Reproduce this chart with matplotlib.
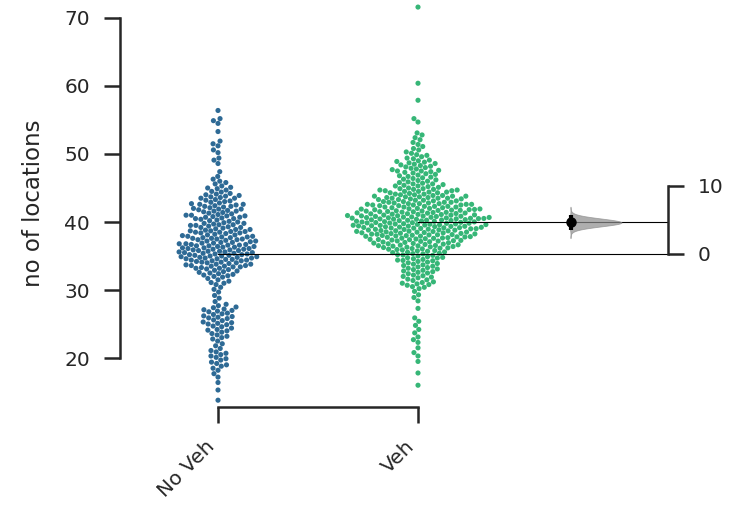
import warnings
warnings.filterwarnings("ignore")

import numpy as np
import pandas as pd
import matplotlib
matplotlib.use("Agg")
import matplotlib.pyplot as plt
import seaborn as sns

# ---- data -------------------------------------------------------------
groups = ["No Veh", "Veh"]

no_veh = [
    56.4, 55.2, 54.9, 54.5, 53.3,
    51.9, 51.5, 51.2, 50.6, 50.2, 49.4, 49.1, 48.6, 47.4,
    46.7, 46.3, 46.0, 45.8, 45.6, 45.3, 45.1, 45.0,
    44.9, 44.7, 44.5, 44.4, 44.2, 44.1, 44.0,
    43.9, 43.8, 43.6, 43.5, 43.5, 43.3, 43.2, 43.1, 43.0, 43.7,
    42.9, 42.8, 42.7, 42.6, 42.5, 42.4, 42.3, 42.3, 42.2, 42.1, 42.0, 42.6,
    41.9, 41.9, 41.8, 41.7, 41.6, 41.5, 41.4, 41.3, 41.2, 41.1, 41.0, 41.0, 41.6,
    40.9, 40.8, 40.7, 40.7, 40.6, 40.5, 40.4, 40.3, 40.2, 40.1, 40.0, 40.5, 40.9,
    39.9, 39.8, 39.8, 39.7, 39.6, 39.5, 39.4, 39.3, 39.2, 39.1, 39.0, 39.5, 39.2, 39.6,
    38.9, 38.9, 38.8, 38.7, 38.6, 38.5, 38.5, 38.4, 38.3, 38.2, 38.1, 38.0,
    38.7, 38.4, 38.1, 38.6,
    37.9, 37.9, 37.8, 37.7, 37.7, 37.6, 37.5, 37.5, 37.4, 37.3, 37.2, 37.1,
    37.0, 37.0, 37.8, 37.4, 37.2, 37.6,
    36.9, 36.9, 36.8, 36.8, 36.7, 36.6, 36.6, 36.5, 36.4, 36.4, 36.3, 36.2,
    36.2, 36.1, 36.0, 36.0, 36.5, 36.7, 36.3, 36.1,
    35.9, 35.9, 35.8, 35.7, 35.7, 35.6, 35.5, 35.5, 35.4, 35.3, 35.3, 35.2,
    35.1, 35.1, 35.0, 35.0, 35.6, 35.4, 35.8, 35.2,
    34.9, 34.9, 34.8, 34.7, 34.6, 34.6, 34.5, 34.4, 34.4, 34.3, 34.2, 34.1,
    34.1, 34.0, 34.0, 34.5, 34.7, 34.3, 34.8,
    33.9, 33.8, 33.7, 33.6, 33.5, 33.5, 33.4, 33.3, 33.2, 33.1, 33.0, 33.6,
    33.2, 33.8, 33.4,
    32.9, 32.8, 32.6, 32.5, 32.4, 32.2, 32.1, 32.0, 32.7, 32.3,
    31.9, 31.7, 31.5, 31.3, 31.1, 31.0,
    30.8, 30.4, 30.1, 29.7, 29.2, 28.8, 28.3,
    27.9, 27.7, 27.5, 27.4, 27.2, 27.1, 27.0,
    26.9, 26.8, 26.6, 26.5, 26.4, 26.2, 26.1, 26.0,
    25.9, 25.8, 25.6, 25.5, 25.3, 25.2, 25.1, 25.0,
    24.9, 24.7, 24.6, 24.4, 24.2, 24.1, 24.0,
    23.8, 23.6, 23.4, 23.2, 23.0,
    22.8, 22.5, 22.1, 21.8, 21.4, 21.1,
    20.9, 20.7, 20.5, 20.3, 20.1,
    19.9, 19.7, 19.4, 19.2, 19.0,
    18.8, 18.5, 18.2, 17.7, 17.2, 16.4, 15.3, 13.8,
]

veh = [
    71.6, 60.4, 57.9, 55.2, 54.7, 53.1,
    52.8, 52.4, 52.1, 51.7, 51.4, 51.1,
    50.8, 50.6, 50.3, 50.1,
    49.9, 49.8, 49.6, 49.4, 49.3, 49.1, 49.0,
    48.9, 48.8, 48.7, 48.6, 48.5, 48.4, 48.3, 48.2, 48.1, 48.0,
    47.9, 47.8, 47.7, 47.6, 47.5, 47.4, 47.3, 47.2, 47.1, 47.0, 47.5,
    46.9, 46.8, 46.7, 46.6, 46.5, 46.4, 46.3, 46.2, 46.1, 46.0,
    45.9, 45.8, 45.7, 45.6, 45.5, 45.4, 45.3, 45.2, 45.1, 45.0, 45.6, 45.3,
    44.9, 44.9, 44.8, 44.7, 44.7, 44.6, 44.5, 44.5, 44.4, 44.3, 44.3, 44.2,
    44.1, 44.1, 44.0, 44.0, 44.6, 44.8, 44.4,
    43.9, 43.9, 43.8, 43.8, 43.7, 43.7, 43.6, 43.5, 43.5, 43.4, 43.4, 43.3,
    43.2, 43.2, 43.1, 43.1, 43.0, 43.0, 43.6, 43.3, 43.8, 43.5,
    42.9, 42.9, 42.8, 42.8, 42.7, 42.7, 42.6, 42.6, 42.5, 42.5, 42.4, 42.4,
    42.3, 42.3, 42.2, 42.2, 42.1, 42.1, 42.0, 42.0, 42.9, 42.5, 42.7, 42.3,
    42.6, 42.2,
    41.95, 41.9, 41.85, 41.8, 41.75, 41.7, 41.65, 41.6, 41.55, 41.5,
    41.45, 41.4, 41.35, 41.3, 41.25, 41.2, 41.15, 41.1, 41.05, 41.0,
    41.92, 41.72, 41.52, 41.32, 41.12, 41.82, 41.62, 41.42, 41.22, 41.02,
    40.95, 40.9, 40.85, 40.8, 40.75, 40.7, 40.65, 40.6, 40.55, 40.5,
    40.45, 40.4, 40.35, 40.3, 40.25, 40.2, 40.15, 40.1, 40.05, 40.0,
    40.92, 40.82, 40.72, 40.62, 40.52, 40.42, 40.32, 40.22, 40.12, 40.02,
    40.27, 40.47, 40.57, 40.67, 40.87,
    39.95, 39.9, 39.85, 39.8, 39.75, 39.7, 39.65, 39.6, 39.55, 39.5,
    39.45, 39.4, 39.35, 39.3, 39.25, 39.2, 39.15, 39.1, 39.05, 39.0,
    39.92, 39.82, 39.72, 39.62, 39.52, 39.42, 39.32, 39.22, 39.12, 39.02,
    39.17, 39.37, 39.67, 39.87,
    38.95, 38.9, 38.85, 38.8, 38.75, 38.7, 38.65, 38.6, 38.55, 38.5,
    38.45, 38.4, 38.35, 38.3, 38.25, 38.2, 38.15, 38.1, 38.05, 38.0,
    38.92, 38.82, 38.72, 38.62, 38.52, 38.42, 38.32, 38.22, 38.12, 38.02,
    37.95, 37.85, 37.75, 37.65, 37.55, 37.45, 37.35, 37.25, 37.15, 37.05,
    37.9, 37.8, 37.7, 37.6, 37.5, 37.4, 37.3, 37.2, 37.1, 37.0,
    37.22, 37.42, 37.62, 37.82, 37.92,
    36.95, 36.85, 36.75, 36.65, 36.55, 36.45, 36.35, 36.25, 36.15, 36.05,
    36.9, 36.8, 36.7, 36.6, 36.5, 36.4, 36.3, 36.2, 36.1, 36.0, 36.52,
    35.9, 35.8, 35.7, 35.6, 35.5, 35.4, 35.3, 35.2, 35.1, 35.0,
    35.15, 35.35, 35.55, 35.75, 35.95,
    34.9, 34.8, 34.7, 34.6, 34.5, 34.4, 34.3, 34.2, 34.1, 34.0, 34.35, 34.75,
    33.9, 33.8, 33.7, 33.6, 33.5, 33.4, 33.3, 33.2, 33.1, 33.0,
    32.9, 32.8, 32.7, 32.6, 32.5, 32.4, 32.2, 32.1, 32.0,
    31.9, 31.8, 31.6, 31.5, 31.4, 31.2, 31.1, 31.0,
    30.9, 30.8, 30.7, 30.5, 30.4, 30.2,
    29.8, 29.3, 28.9, 28.4, 27.3,
    25.9, 25.4, 24.8, 24.2, 23.7, 23.1, 22.7, 22.3, 21.5,
    20.8, 20.3, 19.5, 17.8, 16.0,
]

colors = ["#2e6a95", "#36b677"]
ink = "#262626"

# ---- figure & axes ----------------------------------------------------
W, H = 739, 508
fig = plt.figure(figsize=(W / 100, H / 100), dpi=100)
ax_raw = fig.add_axes([120 / W, 101 / H, 398 / W, 407.4 / H])
ax_es = fig.add_axes([518 / W, 101 / H, 150 / W, 407.4 / H])
for ax in (ax_raw, ax_es):
    ax.patch.set_visible(False)

df = pd.DataFrame({
    "group": [groups[0]] * len(no_veh) + [groups[1]] * len(veh),
    "value": no_veh + veh,
})
sns.swarmplot(data=df, x="group", y="value", hue="group", order=groups,
              hue_order=groups, palette=dict(zip(groups, colors)),
              size=3.7, linewidth=0, legend=False, ax=ax_raw, zorder=2)

ylo, yhi = 12.8, 72.7
ax_raw.set_xlim(-0.49, 1.5)
ax_raw.set_ylim(ylo, yhi)
ax_raw.set_yticks([20, 30, 40, 50, 60, 70])
ax_raw.set_xticks([0, 1])
ax_raw.set_xticklabels(groups, rotation=45, ha="right")
ax_raw.set_xlabel("")
ax_raw.set_ylabel("no of locations", fontsize=16.5, color=ink, labelpad=14)
for s in ("top", "right"):
    ax_raw.spines[s].set_visible(False)
ax_raw.spines["left"].set_bounds(20, 70)
ax_raw.spines["bottom"].set_bounds(0, 1)
for s in ("left", "bottom"):
    ax_raw.spines[s].set_linewidth(1.8)
    ax_raw.spines[s].set_color(ink)
ax_raw.tick_params(length=11.5, width=1.8, labelsize=14.5, color=ink,
                   labelcolor=ink, pad=10)

# ---- effect size (mean difference) ------------------------------------
a = np.asarray(no_veh)
b = np.asarray(veh)
m0, m1 = a.mean(), b.mean()
diff = m1 - m0
se = np.sqrt(a.var(ddof=1) / a.size + b.var(ddof=1) / b.size)
ci_lo, ci_hi = diff - 1.96 * se, diff + 1.96 * se

ax_es.set_xlim(0, 1)
ax_es.set_ylim(ylo - m0, yhi - m0)
x0 = 0.35
ys = np.linspace(diff - 4 * se, diff + 4 * se, 300)
dens = np.exp(-0.5 * ((ys - diff) / se) ** 2)
ax_es.fill_betweenx(ys, x0 - 0.02 * dens, x0 + 0.34 * dens,
                    color="#8c8c8c", alpha=0.7, lw=0.6, zorder=3)
ax_es.plot([x0, x0], [ci_lo, ci_hi], color="black", lw=3, zorder=4,
           solid_capstyle="butt")
ax_es.plot([x0], [diff], "o", color="black", ms=6.5, zorder=5)

ax_es.set_xticks([])
ax_es.set_yticks([0, 10])
ax_es.yaxis.tick_right()
for s in ("top", "left", "bottom"):
    ax_es.spines[s].set_visible(False)
ax_es.spines["right"].set_bounds(0, 10)
ax_es.spines["right"].set_linewidth(1.8)
ax_es.spines["right"].set_color(ink)
ax_es.tick_params(axis="y", length=11.5, width=1.8, labelsize=14.5,
                  color=ink, labelcolor=ink, pad=10)

# group means carried across to the effect-size axis
x_end = ax_raw.transData.inverted().transform(
    ax_es.transAxes.transform((1, 0)))[0]
ax_raw.plot([0, x_end], [m0, m0], color="black", lw=0.8, clip_on=False,
            zorder=6)
ax_raw.plot([1, x_end], [m1, m1], color="black", lw=0.8, clip_on=False,
            zorder=6)

fig.savefig("out.png", dpi=100)
